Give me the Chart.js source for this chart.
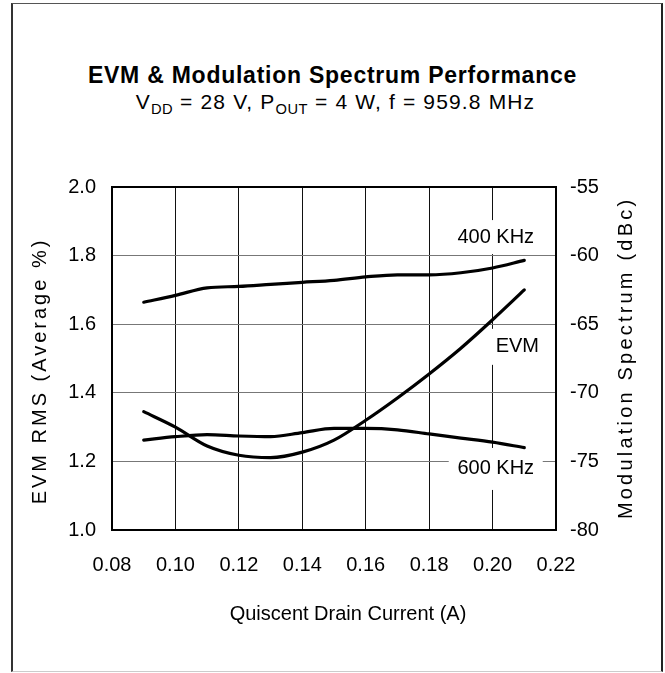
<!DOCTYPE html>
<html>
<head>
<meta charset="utf-8">
<script src="https://cdn.jsdelivr.net/npm/chart.js@4"></script>
<style>
html,body{margin:0;padding:0;background:#fff;}
#wrap{position:relative;width:665px;height:673px;overflow:hidden;}
#frame{position:absolute;left:11px;top:3px;width:652px;height:669px;box-sizing:border-box;
  border-left:2px solid #333;border-top:1px solid #555;border-right:2px solid #222;border-bottom:1px solid #ccc;}
.t{position:absolute;left:0;width:665px;text-align:center;color:#000;font-family:"Liberation Sans",Arial,sans-serif;white-space:nowrap;}
#title{top:62px;font-weight:bold;font-size:23px;line-height:26px;letter-spacing:0.75px;}
#sub{top:89px;font-size:21px;line-height:26px;letter-spacing:1.15px;padding-left:6px;box-sizing:border-box;}
.s{font-size:0.7em;position:relative;top:0.33em;letter-spacing:0.5px;}
canvas{position:absolute;left:0;top:0;}
</style>
</head>
<body>
<div id="wrap">
  <div id="frame"></div>
  <div id="title" class="t">EVM &amp; Modulation Spectrum Performance</div>
  <div id="sub" class="t">V<span class="s">DD</span> = 28 V, P<span class="s">OUT</span> = 4 W, f = 959.8 MHz</div>
  <canvas id="c" width="665" height="673"></canvas>
</div>
<script>
// ---- data ----
const current = [0.09, 0.10, 0.11, 0.12, 0.13, 0.14, 0.15, 0.16, 0.17, 0.18, 0.19, 0.20, 0.21];
const evmRms  = [1.345, 1.300, 1.245, 1.218, 1.211, 1.227, 1.262, 1.320, 1.385, 1.455, 1.530, 1.613, 1.700];
const mod400  = [-63.4, -62.9, -62.35, -62.25, -62.1, -61.95, -61.8, -61.55, -61.4, -61.4, -61.25, -60.9, -60.35];
const mod600  = [-73.45, -73.2, -73.05, -73.15, -73.2, -72.9, -72.6, -72.6, -72.7, -73.0, -73.3, -73.6, -74.0];
const xTicks     = [0.08, 0.10, 0.12, 0.14, 0.16, 0.18, 0.20, 0.22];
const leftTicks  = [1.0, 1.2, 1.4, 1.6, 1.8, 2.0];
const rightTicks = [-80, -75, -70, -65, -60, -55];
const seriesLabels = ['EVM', '400 KHz', '600 KHz'];

const FONT = '"Liberation Sans", Arial, sans-serif';
Chart.defaults.font.family = FONT;
Chart.defaults.color = '#000';

// axis title placement: letter spacing, distance from outer edge, shift along the axis
const titleCfg = {
  x:  {ls: 0, offset: 59, shift: 14},
  y:  {ls: 3.0, offset: 40, shift: 14},
  y1: {ls: 3.2, offset: 39, shift: 1}
};
const origDrawTitle = Chart.Scale.prototype.drawTitle;
Chart.Scale.prototype.drawTitle = function(chartArea) {
  const cfg = titleCfg[this.id];
  const opts = this.options.title;
  if (!cfg || !opts.display) return origDrawTitle.call(this, chartArea);
  const ctx = this.ctx;
  ctx.save();
  ctx.font = Chart.helpers.toFont(opts.font).string;
  ctx.fillStyle = opts.color;
  if ('letterSpacing' in ctx) ctx.letterSpacing = cfg.ls + 'px';
  ctx.textAlign = 'center';
  ctx.textBaseline = 'middle';
  let x, y, rot = 0;
  if (this.isHorizontal()) {
    x = (this.left + this.right) / 2 + cfg.shift;
    y = this.bottom - cfg.offset;
  } else {
    x = this.position === 'left' ? this.left + cfg.offset : this.right - cfg.offset;
    y = (this.top + this.bottom) / 2 + cfg.shift;
    rot = -Math.PI / 2;
  }
  ctx.translate(x, y);
  ctx.rotate(rot);
  ctx.fillText(opts.text, cfg.ls / 2, 0);
  ctx.restore();
};

const pts = (ys) => current.map((x, i) => ({x: x, y: ys[i]}));

// in-plot labels with white backing boxes, positioned in data coordinates
const plotLabels = {
  id: 'plotLabels',
  beforeDatasetsDraw(chart) {
    const {ctx, chartArea: a, scales} = chart;
    const items = [
      {text: seriesLabels[1], x: 0.201,  y: 1.854, w: 94, h: 34},
      {text: seriesLabels[0], x: 0.2078, y: 1.534, w: 54, h: 36},
      {text: seriesLabels[2], x: 0.201,  y: 1.178, w: 94, h: 42}
    ];
    ctx.save();
    items.forEach(it => {
      const px = scales.x.getPixelForValue(it.x);
      const py = scales.y.getPixelForValue(it.y);
      ctx.fillStyle = '#fff';
      ctx.fillRect(px - it.w / 2, py - it.h / 2, it.w, it.h);
      ctx.fillStyle = '#000';
      ctx.font = '20px ' + FONT;
      ctx.textAlign = 'center';
      ctx.textBaseline = 'middle';
      ctx.fillText(it.text, px, py);
    });
    // plot frame
    ctx.strokeStyle = '#000';
    ctx.lineWidth = 2;
    ctx.strokeRect(a.left, a.top, a.right - a.left, a.bottom - a.top);
    ctx.restore();
  }
};

new Chart(document.getElementById('c'), {
  type: 'line',
  data: {
    datasets: [
      {label: seriesLabels[0], data: pts(evmRms), yAxisID: 'y'},
      {label: seriesLabels[1], data: pts(mod400), yAxisID: 'y1'},
      {label: seriesLabels[2], data: pts(mod600), yAxisID: 'y1'}
    ].map(d => Object.assign(d, {
      borderColor: '#000', borderWidth: 3.2, pointRadius: 0, fill: false,
      cubicInterpolationMode: 'monotone', borderCapStyle: 'round', borderJoinStyle: 'round'
    }))
  },
  options: {
    responsive: false, animation: false, devicePixelRatio: 1,
    layout: {padding: {top: 187, left: 0, right: 0, bottom: 0}},
    plugins: {legend: {display: false}, tooltip: {enabled: false}, title: {display: false}},
    scales: {
      x: {
        type: 'linear', position: 'bottom', min: 0.08, max: 0.22,
        afterBuildTicks: s => { s.ticks = xTicks.map(v => ({value: v})); },
        afterFit: s => { s.height = 143; },
        grid: {color: '#111', lineWidth: 1, drawTicks: false},
        border: {display: false},
        ticks: {padding: 23, font: {size: 20}, color: '#000', callback: v => v.toFixed(2)},
        title: {display: true, text: 'Quiscent Drain Current (A)', font: {size: 20}, color: '#000'}
      },
      y: {
        type: 'linear', position: 'left', min: 1.0, max: 2.0,
        afterBuildTicks: s => { s.ticks = leftTicks.map(v => ({value: v})); },
        afterFit: s => { s.width = 112; },
        grid: {color: '#777', lineWidth: 1, drawTicks: false},
        border: {display: false},
        ticks: {padding: 16, font: {size: 20}, color: '#000', callback: v => v.toFixed(1)},
        title: {display: true, text: 'EVM RMS (Average %)', font: {size: 20}, color: '#000'}
      },
      y1: {
        type: 'linear', position: 'right', min: -80, max: -55,
        afterBuildTicks: s => { s.ticks = rightTicks.map(v => ({value: v})); },
        afterFit: s => { s.width = 109; },
        grid: {drawOnChartArea: false, drawTicks: false},
        border: {display: false},
        ticks: {padding: 14, font: {size: 20}, color: '#000', callback: v => String(v)},
        title: {display: true, text: 'Modulation Spectrum (dBc)', font: {size: 20}, color: '#000'}
      }
    }
  },
  plugins: [plotLabels]
});
</script>
</body>
</html>
